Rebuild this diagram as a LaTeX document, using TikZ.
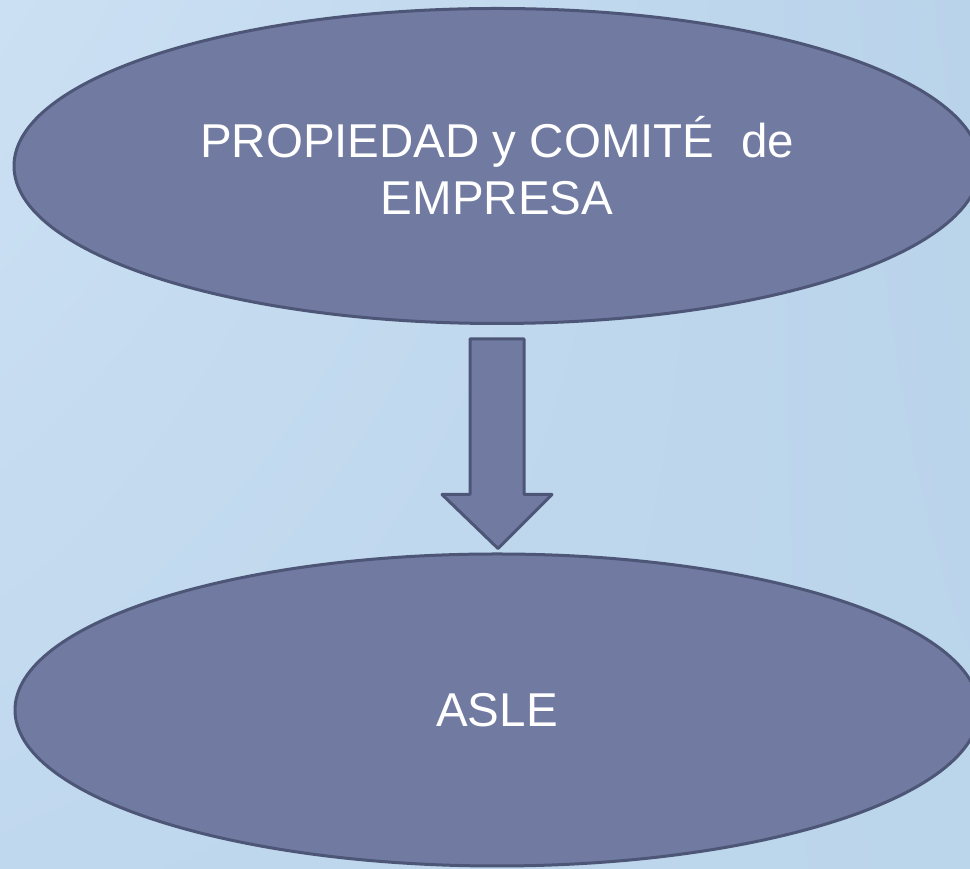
\documentclass[tikz,border=0pt]{standalone}
\usepackage{fontspec}
\setmainfont{Liberation Sans}
\usetikzlibrary{shapes.geometric,calc,shadings}
\definecolor{ovalfill}{HTML}{717AA0}
\definecolor{ovalline}{HTML}{4D5676}
\definecolor{bgul}{HTML}{CCE0F3}
\definecolor{bgur}{HTML}{B9D3EA}
\definecolor{bgll}{HTML}{C0D8EE}
\definecolor{bglr}{HTML}{BBD5EB}
\begin{document}
\begin{tikzpicture}[x=1pt, y=1pt, line join=round,
  oval node/.style={ellipse, draw=ovalline, fill=ovalfill, line width=3pt, text=white, align=center, inner sep=0pt},
  block arrow/.style={draw=ovalline, fill=ovalfill, line width=3pt}]
\useasboundingbox (0,0) rectangle (970,869);
\shade[upper left=bgul, upper right=bgur, lower left=bgll, lower right=bglr] (0,0) rectangle (970,869);%background
\begin{scope}[every node/.style={font=\fontsize{47.5}{57}\selectfont}]
\node[oval node, minimum width=966pt, minimum height=315pt] (propiedad) at (497,703) {PROPIEDAD y COMITÉ~ de\\EMPRESA};
\node[oval node, minimum width=964pt, minimum height=312pt] (asle) at (497,159) {ASLE};
\end{scope}
\begin{scope}
\draw[block arrow] ($(propiedad.south)+(-27,-14)$) -- ($(propiedad.south)+(27,-14)$)
  -- ($(asle.north)+(27,58)$) -- ($(asle.north)+(55,58)$) -- ($(asle.north)+(1,4)$)
  -- ($(asle.north)+(-55,58)$) -- ($(asle.north)+(-27,58)$) -- cycle;
\end{scope}
\end{tikzpicture}
\end{document}
